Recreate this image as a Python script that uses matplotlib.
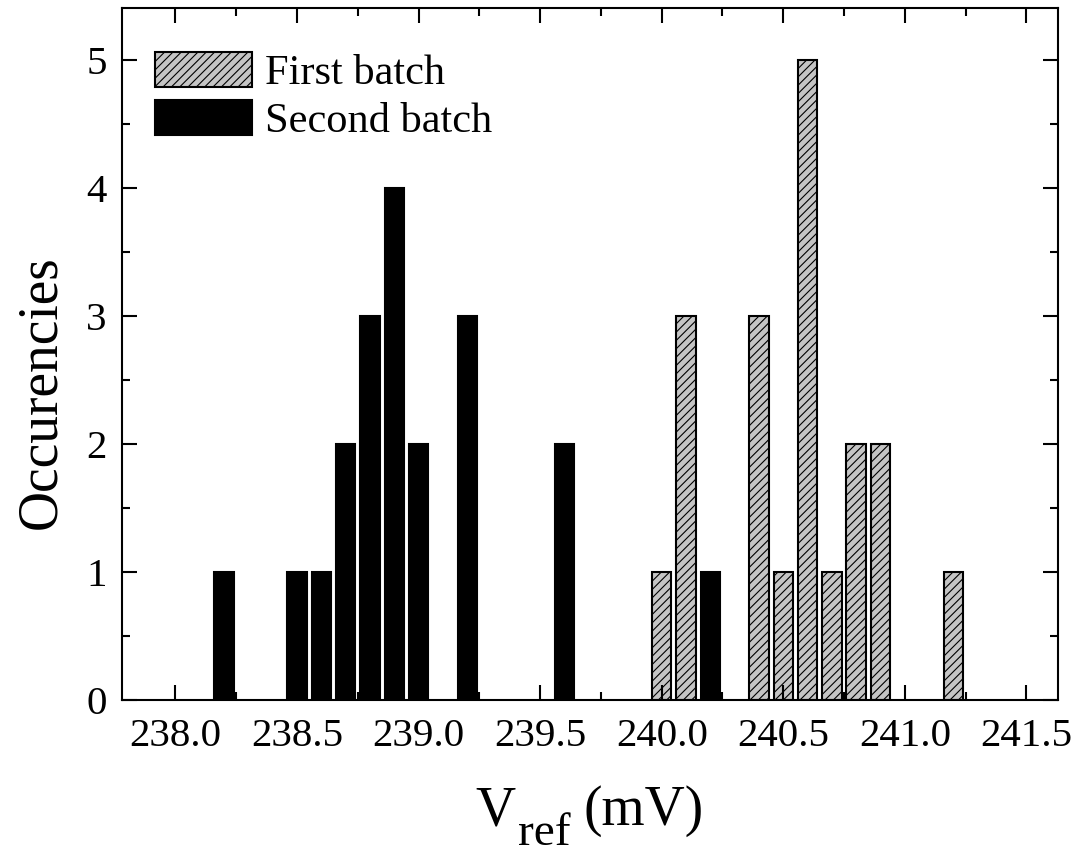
import numpy as np
import matplotlib
matplotlib.use("Agg")
import matplotlib.pyplot as plt
from matplotlib.ticker import MultipleLocator, FormatStrFormatter

# data
first_x = [240.0, 240.1, 240.4, 240.5, 240.6, 240.7, 240.8, 240.9, 241.2]
first_n = [1, 3, 3, 1, 5, 1, 2, 2, 1]
second_x = [238.2, 238.5, 238.6, 238.7, 238.8, 238.9, 239.0, 239.2, 239.6, 240.2]
second_n = [1, 1, 1, 2, 3, 4, 2, 3, 2, 1]

plt.rcParams['font.family'] = ['Liberation Serif', 'DejaVu Serif']
plt.rcParams['hatch.linewidth'] = 0.8

W, H = 1087, 856
fig = plt.figure(figsize=(W / 100, H / 100), dpi=100)
ax = fig.add_axes([122 / W, 1 - 700 / H, 936 / W, 692 / H])

w = 0.08
ax.bar(first_x, first_n, width=w, color='#c4c4c4', edgecolor='black',
       hatch='////', linewidth=1.5, label='First batch')
ax.bar(second_x, second_n, width=w, color='black', edgecolor='black',
       linewidth=1.5, label='Second batch')

ax.set_xlim(237.78, 241.63)
ax.set_ylim(0, 5.41)
ax.xaxis.set_major_locator(MultipleLocator(0.5))
ax.xaxis.set_minor_locator(MultipleLocator(0.25))
ax.xaxis.set_major_formatter(FormatStrFormatter('%.1f'))
ax.yaxis.set_major_locator(MultipleLocator(1))
ax.yaxis.set_minor_locator(MultipleLocator(0.5))

ax.tick_params(which='both', direction='in', top=True, right=True, width=1.5)
ax.tick_params(which='major', length=11, labelsize=29.5)
ax.tick_params(axis='x', which='major', pad=13)
ax.tick_params(axis='y', which='major', pad=11)
ax.tick_params(which='minor', length=5.5)
for s in ax.spines.values():
    s.set_linewidth(1.5)

ax.set_ylabel('Occurencies', fontsize=40)
ax.yaxis.set_label_coords(-0.058, 0.445)

# x label: V with a large subscript "ref", as in the original
fig.text(475 / W, 1 - 825 / H, 'V', fontsize=40, ha='left', va='baseline')
fig.text(518 / W, 1 - 845 / H, 'ref', fontsize=34, ha='left', va='baseline')
fig.text(584 / W, 1 - 825 / H, '(mV)', fontsize=40, ha='left', va='baseline')

ax.legend(loc='upper left', frameon=False, fontsize=30.5, handlelength=2.3,
          handleheight=0.9, handletextpad=0.3, labelspacing=0.15,
          borderpad=0, borderaxespad=0, bbox_to_anchor=(33 / 936, 1 - 44 / 692))

plt.savefig('out.png', dpi=100)
